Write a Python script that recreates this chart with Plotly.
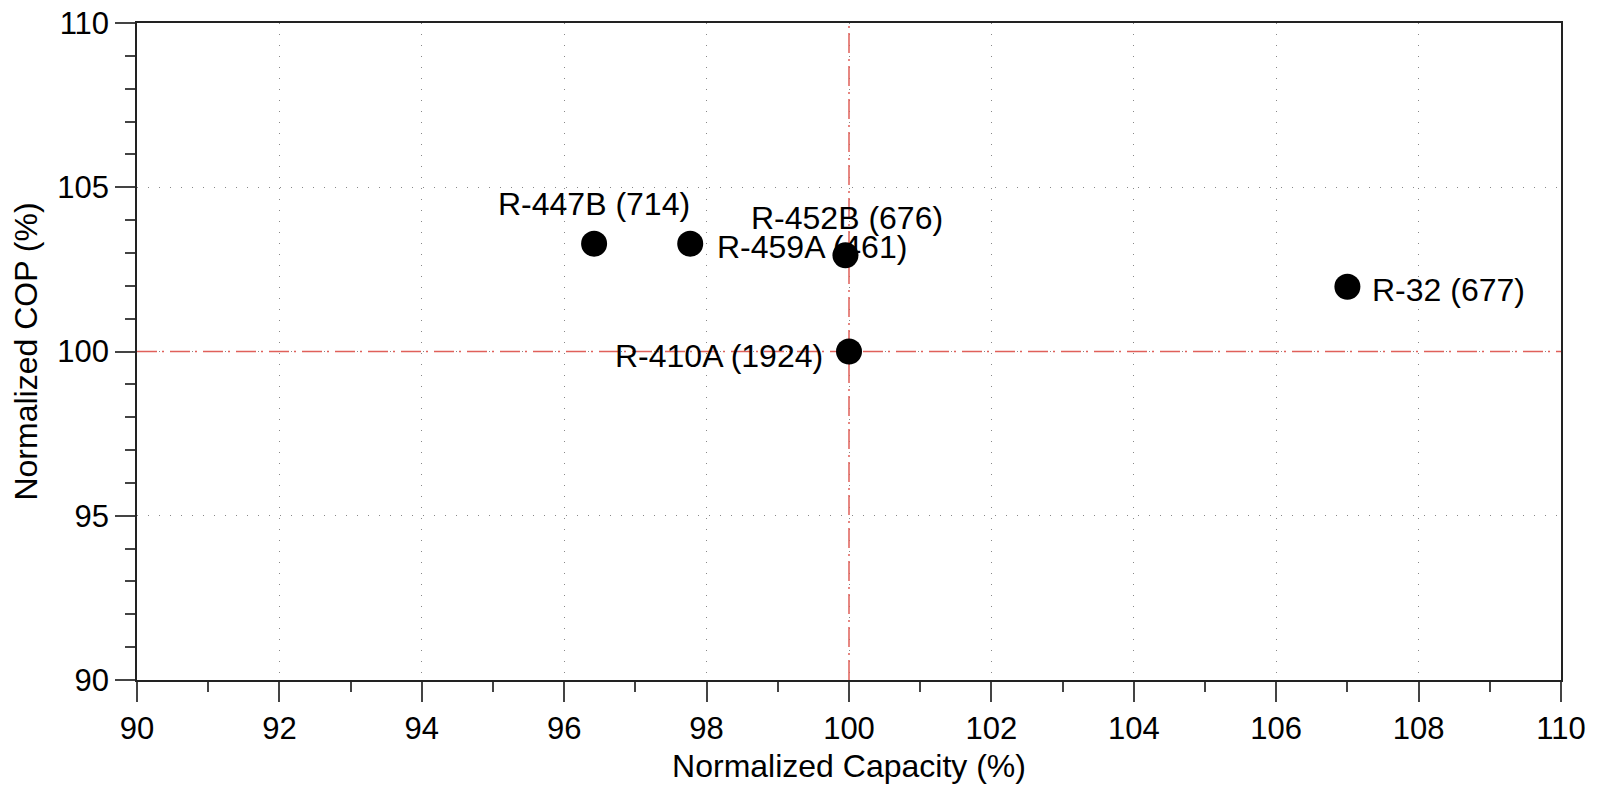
import plotly.graph_objects as go

refrigerants = ["R-447B (714)", "R-459A (461)", "R-452B (676)", "R-410A (1924)", "R-32 (677)"]
capacity = [96.42, 97.77, 99.95, 100.0, 107.0]
cop = [103.28, 103.28, 102.93, 100.0, 101.97]

x_ticks = [90, 92, 94, 96, 98, 100, 102, 104, 106, 108, 110]
y_ticks = [90, 95, 100, 105, 110]

FONT = "Liberation Sans, Arial, Helvetica, sans-serif"

# label placement (style only)
label_style = {
    "R-447B (714)": dict(xanchor="center", yanchor="middle", xshift=0, yshift=40),
    "R-459A (461)": dict(xanchor="left", yanchor="middle", xshift=25, yshift=-3),
    "R-452B (676)": dict(xanchor="center", yanchor="middle", xshift=2, yshift=37),
    "R-410A (1924)": dict(xanchor="right", yanchor="middle", xshift=-24, yshift=-4),
    "R-32 (677)": dict(xanchor="left", yanchor="middle", xshift=23, yshift=-3),
}

fig = go.Figure()

ref_dash = "20px,5px,2px,6px"
fig.add_trace(go.Scatter(
    x=[100, 100], y=[90, 110], mode="lines",
    line=dict(color="#e0605a", width=1.5, dash=ref_dash),
    hoverinfo="skip", showlegend=False))
fig.add_trace(go.Scatter(
    x=[90, 110], y=[100, 100], mode="lines",
    line=dict(color="#e0605a", width=1.5, dash=ref_dash),
    hoverinfo="skip", showlegend=False))

fig.add_trace(go.Scatter(
    x=capacity, y=cop, mode="markers",
    marker=dict(color="black", size=26),
    text=refrigerants, hoverinfo="text", showlegend=False))

for name, cx, cy in zip(refrigerants, capacity, cop):
    fig.add_annotation(x=cx, y=cy, text=name, showarrow=False,
                       font=dict(family=FONT, size=32, color="black"),
                       **label_style[name])

axis_common = dict(
    showline=True, linecolor="#222", linewidth=1.5, mirror=True,
    ticks="outside", ticklen=20, tickwidth=2, tickcolor="#444",
    showgrid=True, gridcolor="#888", gridwidth=1, griddash="1px,10px",
    zeroline=False, automargin=False, ticklabeloverflow="allow",
    tickfont=dict(family=FONT, size=31, color="black"),
)

fig.update_xaxes(
    range=[90, 110], tickvals=x_ticks, ticktext=[str(v) for v in x_ticks],
    minor=dict(dtick=1, ticks="outside", ticklen=10, tickwidth=2, tickcolor="#444", showgrid=False),
    title=dict(text="Normalized Capacity (%)", font=dict(family=FONT, size=32, color="black"), standoff=10),
    **axis_common)
fig.update_yaxes(
    range=[90, 110], tickvals=y_ticks, ticktext=[str(v) for v in y_ticks],
    minor=dict(dtick=1, ticks="outside", ticklen=10, tickwidth=2, tickcolor="#444", showgrid=False),
    title=dict(text="Normalized COP (%)", font=dict(family=FONT, size=32, color="black"), standoff=22),
    **axis_common)

# page body has an 8px default margin; compensate so the plot area lands where the reference has it
fig.update_layout(
    width=1590, height=777,
    margin=dict(l=129, r=37, t=15, b=105),
    plot_bgcolor="white", paper_bgcolor="white",
    font=dict(family=FONT, color="black"),
)

fig.write_html("out.html")
